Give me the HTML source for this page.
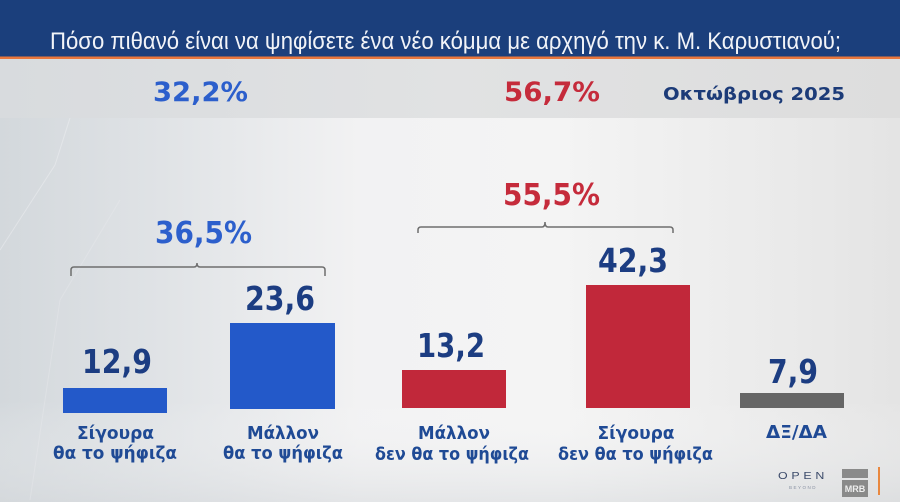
<!DOCTYPE html>
<html><head><meta charset="utf-8"><style>
html,body{margin:0;padding:0;width:900px;height:502px;overflow:hidden;background:#eee}
svg{display:block}
</style></head><body>
<svg width="900" height="502" viewBox="0 0 900 502" xmlns="http://www.w3.org/2000/svg">
<defs>
<linearGradient id="bg" x1="0" y1="0" x2="1" y2="0">
<stop offset="0" stop-color="#d3d8dc"/>
<stop offset="0.18" stop-color="#e0e3e6"/>
<stop offset="0.40" stop-color="#f2f2f3"/>
<stop offset="0.62" stop-color="#f4f4f4"/>
<stop offset="0.85" stop-color="#ebebeb"/>
<stop offset="1" stop-color="#e4e4e4"/>
</linearGradient>
<linearGradient id="band" x1="0" y1="0" x2="1" y2="0">
<stop offset="0" stop-color="#d8dbde"/>
<stop offset="0.5" stop-color="#e1e2e3"/>
<stop offset="1" stop-color="#dddddd"/>
</linearGradient>
<linearGradient id="bot" x1="0" y1="0" x2="0" y2="1">
<stop offset="0" stop-color="#ffffff" stop-opacity="0"/>
<stop offset="1" stop-color="#d6d9dc" stop-opacity="0.5"/>
</linearGradient>
</defs>
<rect x="0" y="0" width="900" height="502" fill="url(#bg)"/>
<rect x="0" y="400" width="900" height="102" fill="url(#bot)"/>
<path d="M0,250 L55,165 L70,118" stroke="#f4f6f7" stroke-width="1" fill="none" opacity="0.4"/>
<path d="M30,500 L60,300 L120,200" stroke="#eef0f2" stroke-width="1" fill="none" opacity="0.3"/>
<!-- title bar -->
<rect x="0" y="0" width="900" height="57" fill="#1b3f7c"/>
<rect x="0" y="56.5" width="900" height="2.5" fill="#e9773d"/>
<rect x="0" y="59" width="900" height="59" fill="url(#band)"/>
<text x="50" y="49" textLength="791" lengthAdjust="spacingAndGlyphs" font-family="'Liberation Sans Narrow','Liberation Sans',sans-serif" font-size="24" fill="#f2f4f8">Πόσο πιθανό είναι να ψηφίσετε ένα νέο κόμμα με αρχηγό την κ. Μ. Καρυστιανού;</text>

<g font-family="'DejaVu Sans','Liberation Sans',sans-serif" font-weight="bold" text-anchor="middle">
<text x="200.5" y="101" font-size="27" textLength="95" lengthAdjust="spacingAndGlyphs" fill="#2c5fcc">32,2%</text>
<text x="552" y="101" font-size="27" textLength="96" lengthAdjust="spacingAndGlyphs" fill="#c52b3b">56,7%</text>
<text x="754" y="100" font-size="18" textLength="182" lengthAdjust="spacingAndGlyphs" fill="#1c3b78">Οκτώβριος 2025</text>

<text x="203.5" y="243" font-size="30" textLength="97" lengthAdjust="spacingAndGlyphs" fill="#2c5fcc">36,5%</text>
<text x="551.5" y="205" font-size="30" textLength="97" lengthAdjust="spacingAndGlyphs" fill="#c52b3b">55,5%</text>

<g fill="#1c3d82" font-size="33">
<text x="117" y="373" textLength="70" lengthAdjust="spacingAndGlyphs">12,9</text>
<text x="280" y="310" textLength="70" lengthAdjust="spacingAndGlyphs">23,6</text>
<text x="451" y="357" textLength="68" lengthAdjust="spacingAndGlyphs">13,2</text>
<text x="633" y="272" textLength="70" lengthAdjust="spacingAndGlyphs">42,3</text>
<text x="793" y="383" textLength="50" lengthAdjust="spacingAndGlyphs">7,9</text>
</g>

<g fill="#1f4a95" font-size="18">
<text x="115.5" y="439" textLength="77" lengthAdjust="spacingAndGlyphs">Σίγουρα</text>
<text x="115" y="459" textLength="124" lengthAdjust="spacingAndGlyphs">θα το ψήφιζα</text>
<text x="283" y="439" textLength="72" lengthAdjust="spacingAndGlyphs">Μάλλον</text>
<text x="283" y="459" textLength="120" lengthAdjust="spacingAndGlyphs">θα το ψήφιζα</text>
<text x="454" y="439" textLength="72" lengthAdjust="spacingAndGlyphs">Μάλλον</text>
<text x="452" y="460" textLength="154" lengthAdjust="spacingAndGlyphs">δεν θα το ψήφιζα</text>
<text x="636" y="439" textLength="77" lengthAdjust="spacingAndGlyphs">Σίγουρα</text>
<text x="635.5" y="460" textLength="155" lengthAdjust="spacingAndGlyphs">δεν θα το ψήφιζα</text>
<text x="796.5" y="438" textLength="61" lengthAdjust="spacingAndGlyphs">ΔΞ/ΔΑ</text>
</g>
</g>

<!-- bars -->
<rect x="63" y="388" width="104" height="25" fill="#2359c9"/>
<rect x="230" y="323" width="105" height="86" fill="#2359c9"/>
<rect x="402" y="370" width="104" height="38" fill="#c1283a"/>
<rect x="586" y="285" width="104" height="123" fill="#c1283a"/>
<rect x="740" y="393" width="104" height="15" fill="#666666"/>

<!-- brackets -->
<path d="M71,276 L71,270 Q71,267 74,267 L194,267 Q197,267 197,263 Q197,267 200,267 L322,267 Q325,267 325,270 L325,276" stroke="#6e6e6e" stroke-width="1.5" fill="none"/>
<path d="M418,233 L418,230 Q418,227 421,227 L542,227 Q545,227 545,222 Q545,227 548,227 L670,227 Q673,227 673,230 L673,233" stroke="#6e6e6e" stroke-width="1.5" fill="none"/>

<!-- logos -->
<text x="803" y="479" text-anchor="middle" font-family="'Liberation Sans',sans-serif" font-size="10" letter-spacing="3" fill="#3b4a6a" textLength="50" lengthAdjust="spacingAndGlyphs">OPEN</text>
<text x="803" y="489" text-anchor="middle" font-family="'Liberation Sans',sans-serif" font-size="4.5" letter-spacing="1.5" fill="#8a93a3">BEYOND</text>
<rect x="842" y="469" width="26" height="9" fill="#8a8a8a"/>
<rect x="842" y="480" width="26" height="17" fill="#8a8a8a"/>
<text x="855" y="492" text-anchor="middle" font-family="'Liberation Sans',sans-serif" font-weight="bold" font-size="9" fill="#eeeeee">MRB</text>
<rect x="878" y="467" width="2" height="28" fill="#e9883f"/>
</svg>
</body></html>
